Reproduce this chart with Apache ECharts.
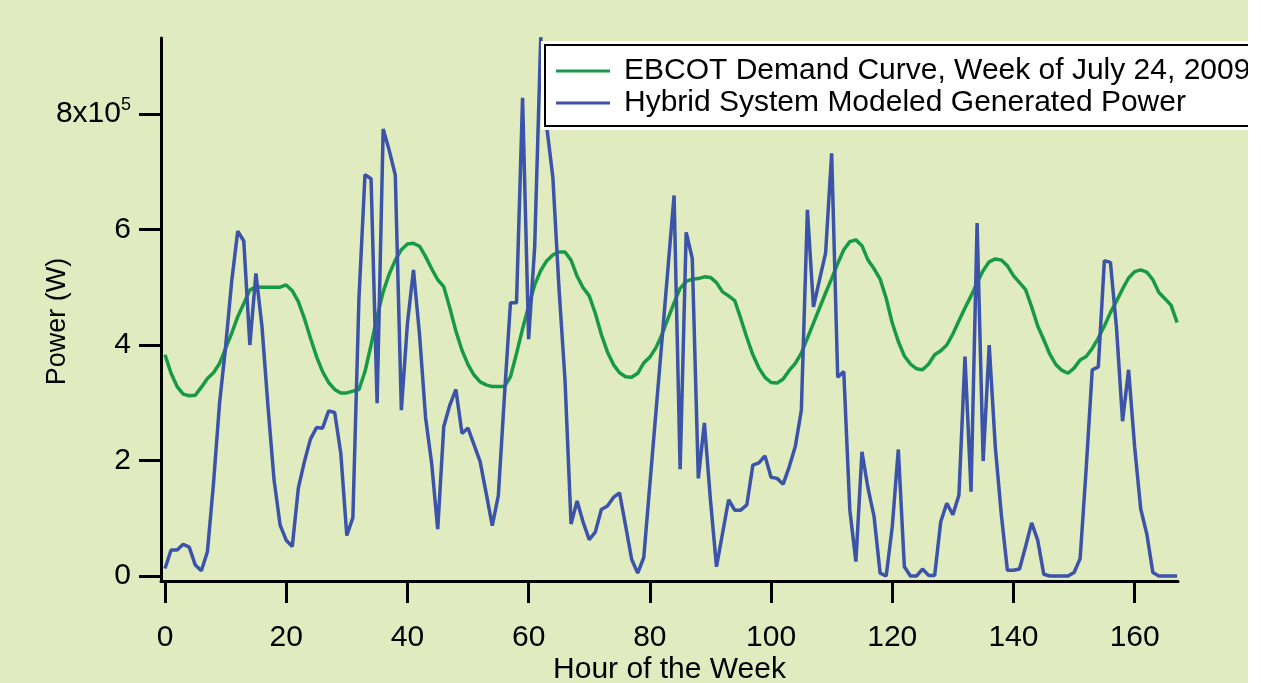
<!DOCTYPE html>
<html><head><meta charset="utf-8">
<script src="https://cdn.jsdelivr.net/npm/echarts@6/dist/echarts.min.js"></script>
<style>html,body{margin:0;padding:0;background:#ffffff;overflow:hidden;} #c{width:1248px;height:683px;background:#e0ebbf;}</style>
</head><body><div id="c"></div><script>
// Hour of the week 0..167
const hours = [];
for (let i = 0; i < 168; i++) hours.push(i);
// EBCOT demand curve (units of 1e5 W)
const demand = [
3.83,3.51,3.28,3.15,3.12,3.13,3.27,3.42,3.52,3.68,3.94,4.20,4.49,4.72,4.95,5.01,5.00,5.00,5.00,5.00,
5.04,4.94,4.75,4.46,4.12,3.80,3.54,3.35,3.23,3.17,3.17,3.20,3.23,3.54,4.00,4.49,4.92,5.23,5.47,5.65,
5.75,5.76,5.71,5.53,5.32,5.13,5.01,4.64,4.24,3.91,3.66,3.48,3.36,3.31,3.28,3.28,3.28,3.45,3.85,4.28,
4.67,5.04,5.29,5.46,5.56,5.61,5.61,5.47,5.19,4.99,4.85,4.55,4.18,3.88,3.66,3.52,3.45,3.44,3.51,3.69,
3.79,3.95,4.18,4.46,4.73,4.98,5.10,5.14,5.15,5.18,5.17,5.08,4.92,4.85,4.77,4.46,4.13,3.83,3.60,3.44,
3.35,3.34,3.41,3.56,3.68,3.86,4.12,4.38,4.64,4.90,5.15,5.41,5.65,5.79,5.82,5.72,5.47,5.32,5.14,4.81,
4.38,4.06,3.81,3.67,3.59,3.57,3.67,3.83,3.90,4.00,4.19,4.42,4.64,4.85,5.08,5.29,5.44,5.49,5.47,5.37,
5.20,5.08,4.96,4.66,4.33,4.09,3.84,3.66,3.56,3.51,3.60,3.74,3.80,3.94,4.12,4.33,4.56,4.76,4.97,5.16,
5.27,5.30,5.26,5.13,4.91,4.80,4.69,4.39
];
// Hybrid system modeled generated power (units of 1e5 W)
const generated = [
0.13,0.45,0.45,0.55,0.50,0.19,0.09,0.42,1.60,2.99,3.97,5.10,5.97,5.80,4.00,5.24,4.32,2.93,1.66,0.88,
0.62,0.51,1.52,1.98,2.37,2.57,2.56,2.86,2.83,2.13,0.70,1.01,4.80,6.95,6.88,2.99,7.74,7.37,6.94,2.87,
4.37,5.30,4.18,2.74,1.95,0.81,2.59,2.96,3.23,2.47,2.56,2.27,1.98,1.43,0.87,1.39,3.10,4.73,4.73,8.28,
4.10,5.70,9.33,7.77,6.90,5.00,3.40,0.90,1.30,0.93,0.63,0.76,1.15,1.21,1.36,1.44,0.87,0.29,0.05,0.32,
1.58,2.83,4.08,5.34,6.59,1.85,5.95,5.50,1.69,2.65,1.32,0.16,0.74,1.32,1.14,1.14,1.23,1.92,1.96,2.08,
1.71,1.69,1.59,1.89,2.24,2.87,6.34,4.66,5.13,5.59,7.32,3.44,3.54,1.14,0.25,2.15,1.52,1.03,0.05,0.00,
0.85,2.19,0.16,0.00,0.00,0.12,0.01,0.01,0.94,1.26,1.06,1.40,3.80,1.46,6.11,1.99,4.00,2.24,1.06,0.10,
0.10,0.12,0.51,0.92,0.62,0.03,0.00,0.00,0.00,0.00,0.06,0.30,1.86,3.57,3.62,5.46,5.43,4.30,2.68,3.57,
2.23,1.16,0.73,0.06,0.00,0.00,0.00,0.00
];
const xTicks = [0,20,40,60,80,100,120,140,160];
const yTicks = [0,200000,400000,600000,800000];
const seriesNames = ['EBCOT Demand Curve, Week of July 24, 2009','Hybrid System Modeled Generated Power'];

const SCALE = 1e5;
const demandData = hours.map((h,i)=>[h, demand[i]*SCALE]);
const genData = hours.map((h,i)=>[h, generated[i]*SCALE]);

const FONT = 'Liberation Sans, Arial, sans-serif';
const chart = echarts.init(document.getElementById('c'), null, {renderer:'canvas'});
chart.setOption({
  backgroundColor: '#e0ebbf',
  animation: false,
  textStyle: {fontFamily: FONT},
  grid: {left: 161, top: 38, width: 1017, height: 543, containLabel: false, outerBoundsMode: 'none'},
  graphic: [{type:'rect', z: 3, shape:{x:541, y:41, width:800, height:89}, style:{fill:'#ffffff'}}],
  legend: {
    z: 10,
    orient: 'vertical',
    left: 545, top: 45,
    data: seriesNames,
    icon: 'rect', itemWidth: 54, itemHeight: 3, itemGap: 2,
    backgroundColor: '#ffffff', borderColor: '#000000', borderWidth: 2,
    padding: [11, 12, 8, 11],
    textStyle: {fontFamily: FONT, fontSize: 30, color: '#000', lineHeight: 26, padding:[0,0,0,9]}
  },
  xAxis: {
    type: 'value', min: -0.66, max: 167.15,
    axisLine: {show: true, onZero: false, lineStyle: {color: '#000', width: 3}},
    axisTick: {show: true, customValues: xTicks, length: 22, lineStyle: {color: '#000', width: 3}},
    axisLabel: {customValues: xTicks, fontFamily: FONT, fontSize: 30, color: '#000', margin: 42},
    splitLine: {show: false},
    name: 'Hour of the Week', nameLocation: 'middle', nameGap: 74, nameMoveOverlap: false,
    nameTextStyle: {fontFamily: FONT, fontSize: 30, color: '#000'}
  },
  yAxis: {
    type: 'value', min: -8700, max: 931600,
    axisLine: {show: true, onZero: false, lineStyle: {color: '#000', width: 3}},
    axisTick: {show: true, customValues: yTicks, length: 22, lineStyle: {color: '#000', width: 3}},
    axisLabel: {
      customValues: yTicks, margin: 30, fontFamily: FONT, fontSize: 30, color: '#000',
      formatter: function(v){ return v === 800000 ? '{b|8x10}{s|5}' : String(Math.round(v/SCALE)); },
      rich: {b: {fontFamily: FONT, fontSize: 30, color:'#000'}, s: {fontFamily: FONT, fontSize: 18, color:'#000', padding:[0,0,18,0]}}
    },
    splitLine: {show: false},
    name: 'Power (W)', nameLocation: 'middle', nameGap: 90, nameRotate: 90, nameMoveOverlap: false,
    nameTextStyle: {fontFamily: FONT, fontSize: 27, color: '#000', padding: [0, 24, 0, 0]}
  },
  series: [
    {name: seriesNames[0], type: 'line', data: demandData, showSymbol: false, symbol: 'none',
     lineStyle: {color: '#169a45', width: 3.5}, itemStyle: {color: '#169a45'}, z: 2},
    {name: seriesNames[1], type: 'line', data: genData, showSymbol: false, symbol: 'none',
     lineStyle: {color: '#3b53a9', width: 3.5}, itemStyle: {color: '#3b53a9'}, z: 2}
  ]
});
</script></body></html>
